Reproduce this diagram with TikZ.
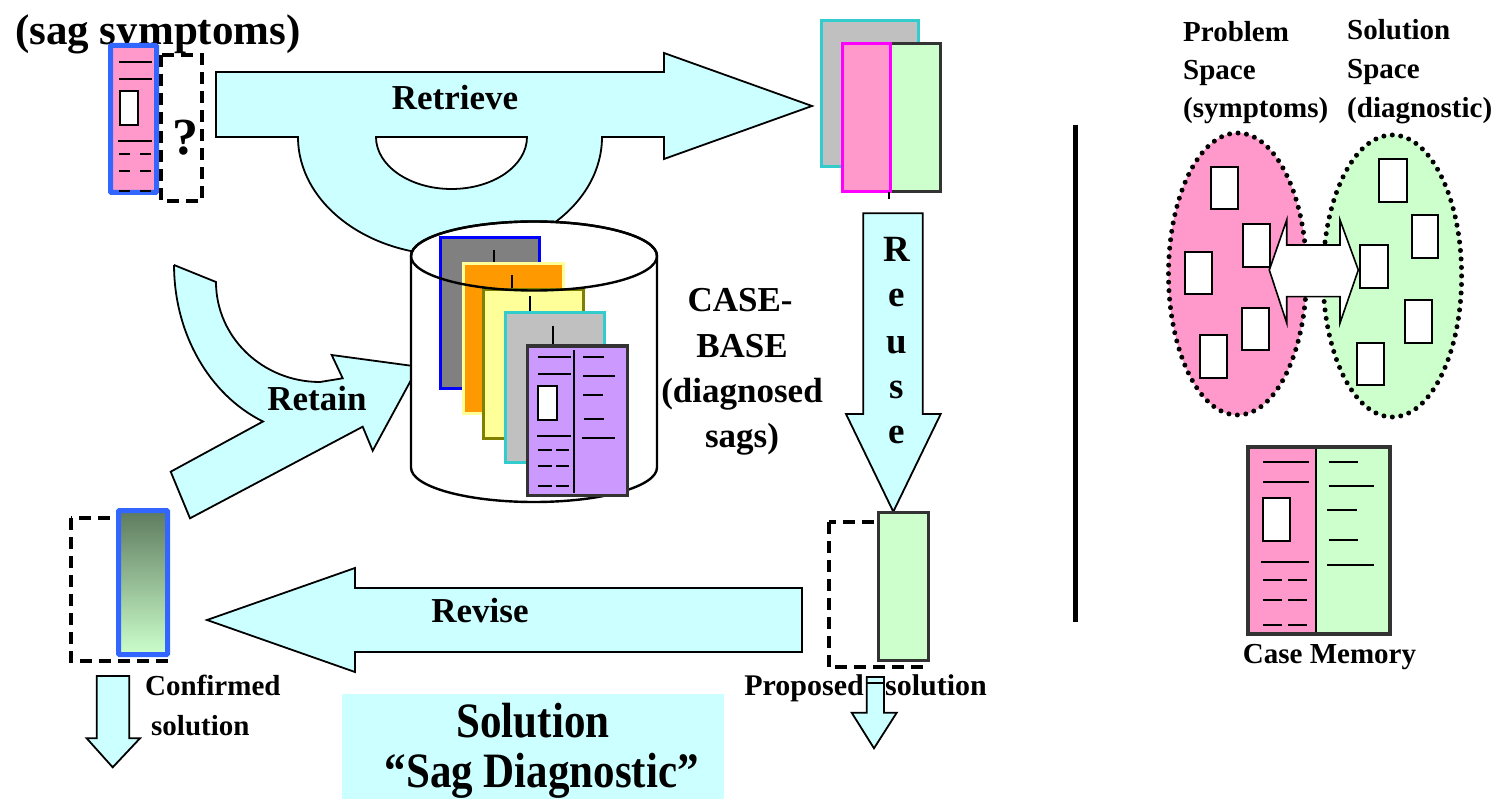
\documentclass[tikz,border=0pt]{standalone}
\usepackage{fontspec}
\setmainfont{Liberation Serif}
\definecolor{flowcyan}{HTML}{CCFFFF}
\definecolor{probpink}{HTML}{FF99CC}
\definecolor{solgreen}{HTML}{CCFFCC}
\definecolor{cardblue}{HTML}{3366FF}
\definecolor{pureblue}{HTML}{0000FF}
\definecolor{framegrey}{HTML}{333333}
\definecolor{cardcyan}{HTML}{33CCCC}
\definecolor{lightgrey}{HTML}{C0C0C0}
\definecolor{midgrey}{HTML}{808080}
\definecolor{cardorange}{HTML}{FF9900}
\definecolor{paleyellow}{HTML}{FFFF99}
\definecolor{olivedrab}{HTML}{808000}
\definecolor{lavender}{HTML}{CC99FF}
\definecolor{magentaline}{HTML}{FF00FF}
\definecolor{darksage}{HTML}{5E7A5E}

\tikzset{
  flow/.style={fill=flowcyan, draw=black, line width=1.8pt, line join=miter},
  bigtxt/.style={inner sep=0pt, font=\fontsize{35}{42}\selectfont\bfseries},
  reusetxt/.style={inner sep=0pt, font=\fontsize{37}{42}\selectfont\bfseries},
  midtxt/.style={inner sep=0pt, font=\fontsize{29}{36}\selectfont\bfseries},
  bannertxt/.style={inner sep=0pt, font=\fontsize{43}{50}\selectfont\bfseries},
  pending/.style={draw=black, line width=4pt, dash pattern=on 12pt off 7pt},
  textline/.style={draw=black, line width=2pt},
  stem/.style={draw=black, line width=1.6pt},
  dotring/.style={line width=5pt, dash pattern=on 0pt off 8.5pt, line cap=round},
  slot/.style={fill=white, draw=black, line width=2pt},
  leaf/.style={line width=3pt},
}

\begin{document}
\begin{tikzpicture}[x=1pt,y=-1pt]
\useasboundingbox (0,0) rectangle (1509,799);

% ---------- Retrieve arrow with its bowl into the case base ----------
\path[flow, even odd rule]
  (216,72) -- (664,72) -- (664,53) -- (812,106) -- (664,159) -- (664,137) -- (602,137)
  arc[start angle=0, end angle=180, x radius=152, y radius=118] -- (216,137) -- cycle
  (527,137) arc[start angle=0, end angle=180, x radius=75.5, y radius=52] -- cycle;
\node[bigtxt, anchor=base] (retrieve) at (455,110) {Retrieve};

% ---------- Retain arrow ----------
\path[flow]
  (174,265) -- (216,282) arc[start angle=180, end angle=90, x radius=104, y radius=100]
  -- (342.7,378.3) -- (331.7,355) -- (418.3,366.7) -- (372.7,450.7) -- (362.7,426.7)
  -- (190,518.3) -- (170.7,471.7) -- (263,421.5)
  arc[start angle=113, end angle=180, x radius=146, y radius=170] -- cycle;
\node[bigtxt, anchor=base] (retain) at (317,410) {Retain};

% ---------- Reuse arrow ----------
\path[flow] (863.3,213.3) -- (922.7,213.3) -- (922.7,414) -- (940.7,414)
  -- (893.3,511.7) -- (846,414) -- (863.3,414) -- cycle;
\node[reusetxt, anchor=base] (reuseR)  at (896.7,261.7) {R};
\node[reusetxt, anchor=base] (reuseE1) at (896.7,306.7) {e};
\node[reusetxt, anchor=base] (reuseU)  at (896.7,353) {u};
\node[reusetxt, anchor=base] (reuseS)  at (896.7,398) {s};
\node[reusetxt, anchor=base] (reuseE2) at (896.7,443) {e};

% ---------- Revise arrow ----------
\path[flow] (802,588) -- (355,588) -- (355,568) -- (207,620) -- (355,672)
  -- (355,652) -- (802,652) -- cycle;
\node[bigtxt, anchor=base] (revise) at (480,622) {Revise};

% ---------- Solution banner ----------
\path[fill=flowcyan] (341.7,694) rectangle (724,800);
\node[bannertxt, anchor=base] (solA) at (533,737) {\scalebox{1}[1.15]{Solution}};
\node[bannertxt, anchor=base] (solB) at (541.7,787) {\scalebox{1}[1.15]{“Sag Diagnostic”}};

% ---------- Case base cylinder ----------
\path[fill=white, draw=black, line width=2.4pt]
  (411,256) -- (411,467.5) arc[start angle=180, end angle=0, x radius=123, y radius=34.5]
  -- (657,256) arc[start angle=0, end angle=-180, x radius=123, y radius=34.5] -- cycle;
\draw[fill=midgrey, draw=pureblue, leaf] (440,238) rectangle (539,388);
\draw[stem] (494,250) -- (494,272);
\draw[fill=cardorange, draw=paleyellow, leaf] (463,264) rectangle (563,413);
\draw[stem] (512,275) -- (512,297);
\draw[fill=paleyellow, draw=olivedrab, leaf] (483,290) rectangle (583,438);
\draw[stem] (530,296) -- (530,317);
\draw[fill=lightgrey, draw=cardcyan, leaf] (505,313) rectangle (604,462);
\draw[stem] (553,326) -- (553,345);
\draw[fill=lavender, draw=framegrey, leaf] (527,346) rectangle (627,495);
\draw[stem] (574,350) -- (574,493);
\draw[textline] (538,357) -- (571,357) (538,374) -- (571,374) (537,436) -- (571,436);
\draw[slot] (538,386) rectangle (557,420);
\foreach \yy in {450,466,486} \draw[textline] (538,\yy) -- (552,\yy) (556,\yy) -- (569,\yy);
\draw[textline] (583,357) -- (604,357) (583,376) -- (615,376) (583,395) -- (603,395)
  (584,419) -- (604,419) (582,438) -- (615,438);
\draw[line width=2.4pt] (534,256) ellipse[x radius=123, y radius=34.5];
\node[bigtxt, anchor=base] (cbA) at (740,312) {CASE-};
\node[bigtxt, anchor=base] (cbB) at (742,357) {BASE};
\node[bigtxt, anchor=base] (cbC) at (742,402) {(diagnosed};
\node[bigtxt, anchor=base] (cbD) at (742,447) {sags)};

% ---------- New problem ----------
\node[inner sep=0pt, anchor=base west, font=\fontsize{43}{50}\selectfont\bfseries] (symptoms) at (15,45) {(sag symptoms)};
\draw[fill=probpink, draw=cardblue, line width=5pt, rounded corners=1pt] (110.5,45.5) rectangle (156.5,192.5);
\draw[textline] (119,62) -- (152,62) (119,79) -- (152,79) (118,141) -- (152,141);
\draw[slot] (120,91) rectangle (138,125);
\foreach \yy in {154,171,191} \draw[textline] (119,\yy) -- (130,\yy) (140,\yy) -- (151,\yy);
\draw[pending] (161,55) rectangle (202,201);
\node[inner sep=0pt, anchor=base, font=\fontsize{52}{60}\selectfont\bfseries] (unknown) at (185,155) {?};

% ---------- Retrieved case ----------
\draw[fill=lightgrey, draw=cardcyan, line width=3pt] (821,21) rectangle (918,167);
\draw[fill=solgreen, draw=framegrey, line width=3pt] (842,44) rectangle (940,192);
\draw[fill=probpink, draw=magentaline, line width=3pt] (842,44) rectangle (890,192);
\draw[stem] (889,192) -- (889,199);

% ---------- Proposed solution ----------
\draw[pending] (828.7,522) rectangle (924.7,667.3);
\draw[fill=solgreen, draw=framegrey, line width=3pt] (878.5,512.5) rectangle (928.5,660);
\node[inner sep=0pt, font=\fontsize{30}{36}\selectfont\bfseries, anchor=base east] (proposedA) at (864,695) {Proposed};
\node[inner sep=0pt, font=\fontsize{30}{36}\selectfont\bfseries, anchor=base west] (proposedB) at (885,695) {solution};
\path[flow] (866.7,677) -- (884,677) -- (884,712.7) -- (896.7,712.7) -- (874,748.3)
  -- (851.7,712.7) -- (866.7,712.7) -- cycle;
\draw[line width=1.8pt] (866.7,683) -- (884,683);

% ---------- Confirmed solution ----------
\draw[pending] (71,518) rectangle (166,661);
\shade[top color=darksage, bottom color=solgreen] (118.5,510.5) rectangle (167.5,654.5);
\draw[cardblue, line width=5pt, rounded corners=1pt] (118.5,510.5) rectangle (167.5,654.5);
\node[midtxt, anchor=base west] (confA) at (145,695) {Confirmed};
\node[midtxt, anchor=base west] (confB) at (151,735) {solution};
\path[flow] (96.7,676) -- (129.3,676) -- (129.3,738.3) -- (140,738.3) -- (112.7,767.3)
  -- (86.7,738.3) -- (96.7,738.3) -- cycle;

% ---------- Separator ----------
\draw[line width=5pt] (1075,125) -- (1075,622);

% ---------- Problem and solution spaces ----------
\node[midtxt, anchor=base west] (psA) at (1183,42) {Problem};
\node[midtxt, anchor=base west] (psB) at (1183,80) {Space};
\node[midtxt, anchor=base west] (psC) at (1183,118) {(symptoms)};
\node[midtxt, anchor=base west] (ssA) at (1347,40) {Solution};
\node[midtxt, anchor=base west] (ssB) at (1347,79) {Space};
\node[midtxt, anchor=base west] (ssC) at (1347,118) {(diagnostic)};
\draw[dotring, fill=probpink] (1237.5,274) ellipse[x radius=69, y radius=141];
\draw[dotring, fill=solgreen] (1392.3,276) ellipse[x radius=69.3, y radius=141];
\draw[slot] (1210.7,166.7) rectangle (1238.3,209.3);
\draw[slot] (1242.7,224) rectangle (1270,266.7);
\draw[slot] (1185,251.7) rectangle (1212.3,294.3);
\draw[slot] (1241.7,308.3) rectangle (1269,350);
\draw[slot] (1200,335) rectangle (1226.7,377.7);
\draw[slot] (1379,159) rectangle (1406.7,201.7);
\draw[slot] (1411.7,215) rectangle (1438.3,257.7);
\draw[slot] (1360,245) rectangle (1387.7,287.7);
\draw[slot] (1405,300) rectangle (1431.7,343.3);
\draw[slot] (1357.3,342.7) rectangle (1384.3,385);
\path[fill=white, draw=black, line width=1.6pt, line join=miter]
  (1269.3,270) -- (1286.7,220) -- (1286.7,245) -- (1340,245) -- (1340,220) -- (1358.3,270)
  -- (1340,323) -- (1340,296.7) -- (1286.7,296.7) -- (1286.7,323) -- cycle;

% ---------- Case memory ----------
\fill[probpink] (1246,445) rectangle (1316,636);
\fill[solgreen] (1316,445) rectangle (1391,636);
\draw[line width=2.5pt] (1316,445) -- (1316,636);
\draw[framegrey, line width=4pt] (1247.5,447) rectangle (1389.5,634);
\draw[textline] (1262.7,461.7) -- (1309.3,461.7) (1262.7,482.3) -- (1309.3,482.3)
  (1260.7,561.7) -- (1309.3,561.7);
\draw[slot] (1263.3,498.3) rectangle (1290,540.7);
\foreach \yy in {580,600,625} \draw[textline] (1262.7,\yy) -- (1282.3,\yy) (1288.3,\yy) -- (1307.3,\yy);
\draw[textline] (1328.7,461.7) -- (1358.3,461.7) (1328.7,485.7) -- (1374,485.7)
  (1327,510) -- (1356.7,510) (1328.7,540) -- (1358.3,540) (1327,565) -- (1374,565);
\node[midtxt, anchor=base] (casemem) at (1329.5,663) {Case Memory};

\end{tikzpicture}
\end{document}
